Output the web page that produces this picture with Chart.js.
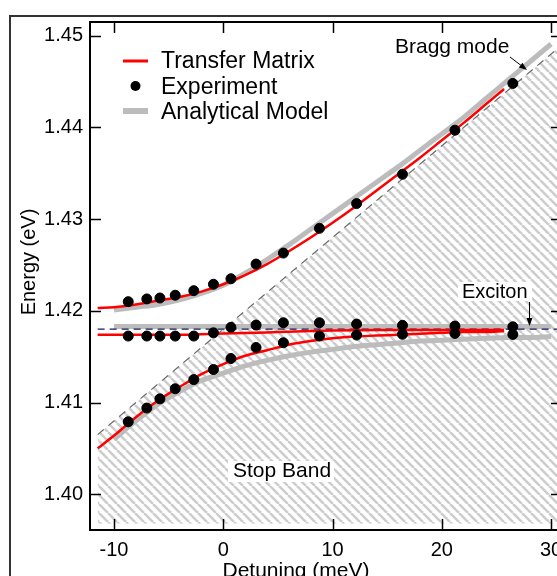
<!DOCTYPE html>
<html>
<head>
<meta charset="utf-8">
<script src="https://cdn.jsdelivr.net/npm/chart.js@4.4.0/dist/chart.umd.min.js"></script>
<style>
html, body { margin: 0; padding: 0; overflow: hidden; background: #fff; }
#wrap { position: relative; width: 557px; height: 576px; overflow: hidden; }
canvas { position: absolute; left: 0; top: 0; }
</style>
</head>
<body>
<div id="wrap"><canvas id="chart" width="600" height="576"></canvas></div>
<script>
// tick labels
var xTicks = [-10, 0, 10, 20, 30];
var yTicks = [1.40, 1.41, 1.42, 1.43, 1.44, 1.45];

// experiment (black dots)
var expDetuning = [-8.7, -7.0, -5.8, -4.4, -2.7, -0.9, 0.7, 3.0, 5.5, 8.8, 12.2, 16.4, 21.2, 26.5];
var expUpper  = [1.4210, 1.4213, 1.4214, 1.4217, 1.4222, 1.4229, 1.4235, 1.4251, 1.4263, 1.4290, 1.4317, 1.4349, 1.4397, 1.4448];
var expMiddle = [1.41725, 1.41725, 1.41725, 1.41725, 1.41725, 1.4176, 1.4182, 1.41845, 1.4187, 1.4187, 1.41856, 1.41842, 1.41834, 1.41826];
var expLower  = [1.4079, 1.4094, 1.4104, 1.4115, 1.4125, 1.4136, 1.4148, 1.4160, 1.41652, 1.41725, 1.41736, 1.41745, 1.41754, 1.41743];

// transfer matrix (red)
var tmDetuning = [-11.5, -10, -8, -6, -4, -2, 0, 2, 4, 6, 8, 10, 12, 14, 16, 18, 20, 22, 24, 25.7];
var tmUpper  = [1.4203, 1.4204, 1.4207, 1.4211, 1.4215, 1.4221, 1.4229, 1.4239, 1.4251, 1.4265, 1.4280, 1.4296, 1.4313, 1.4331, 1.4349, 1.4367, 1.4386, 1.4405, 1.4425, 1.4442];
var tmMiddle = [1.4174, 1.4174, 1.4174, 1.4174, 1.4174, 1.41745, 1.41752, 1.41758, 1.41765, 1.41773, 1.4178, 1.41785, 1.41788, 1.4179, 1.4179, 1.4179, 1.4179, 1.4179, 1.4179, 1.4179];
var tmLower  = [1.4050, 1.4064, 1.4084, 1.4102, 1.4117, 1.4131, 1.4142, 1.4151, 1.4157, 1.4163, 1.4167, 1.4170, 1.4172, 1.4173, 1.4174, 1.4175, 1.4176, 1.4177, 1.4177, 1.4178];

// analytical model (grey)
var amDetuning = [-10, -8, -6, -4, -2, 0, 2, 4, 6, 8, 10, 12, 14, 16, 18, 20, 22, 24, 26, 28, 30];
var amUpper  = [1.4201, 1.4204, 1.4207, 1.4212, 1.4219, 1.4228, 1.4241, 1.4256, 1.4272, 1.4289, 1.4306, 1.4323, 1.4340, 1.4357, 1.4375, 1.4393, 1.4411, 1.4431, 1.4451, 1.4471, 1.4491];
var amMiddle = [1.4183, 1.4183, 1.4183, 1.4183, 1.4183, 1.4183, 1.4183, 1.4183, 1.4183, 1.4183, 1.4183, 1.4183, 1.4183, 1.4183, 1.4183, 1.4183, 1.4183, 1.4183, 1.4183, 1.4183, 1.4183];
var amLower  = [1.4060, 1.4080, 1.4098, 1.4112, 1.4124, 1.4132, 1.4140, 1.4146, 1.4151, 1.4155, 1.4158, 1.4161, 1.4163, 1.4165, 1.4167, 1.4168, 1.4169, 1.4170, 1.4171, 1.4171, 1.4172];

// bare modes
var braggDetuning = [-11.5, 31];
var braggEnergy = [1.4065, 1.4490];
var excitonDetuning = [-11.5, 31];
var excitonEnergy = [1.4180, 1.4180];
var stopBandFloor = 1.3968;

var FONT = "'Liberation Sans', Arial, sans-serif";

function pts(xs, ys) {
  return xs.map(function (x, i) { return { x: x, y: ys[i] }; });
}

function hatch() {
  var c = document.createElement('canvas');
  c.width = 9; c.height = 9;
  var g = c.getContext('2d');
  g.strokeStyle = '#cdcdcd';
  g.lineWidth = 2.6;
  g.beginPath();
  for (var k = -1; k <= 1; k++) {
    g.moveTo(k * 9, 0);
    g.lineTo(k * 9 + 9, 9);
  }
  g.stroke();
  return g.createPattern(c, 'repeat');
}

function redLine(data) {
  return { data: data, borderColor: '#ff0000', borderWidth: 2.5, pointRadius: 0, fill: false,
           cubicInterpolationMode: 'monotone', order: 1 };
}
function greyLine(data) {
  return { data: data, borderColor: '#bcbcbc', borderWidth: 5, pointRadius: 0, fill: false,
           borderCapStyle: 'butt', cubicInterpolationMode: 'monotone', order: 3 };
}
function dots(data) {
  return { data: data, showLine: false, pointRadius: 5, pointBorderWidth: 1,
           pointBackgroundColor: '#000', pointBorderColor: '#000', order: 0 };
}

function arrow(ctx, x1, y1, x2, y2) {
  var a = Math.atan2(y2 - y1, x2 - x1);
  ctx.beginPath();
  ctx.moveTo(x1, y1);
  ctx.lineTo(x2 - 6 * Math.cos(a), y2 - 6 * Math.sin(a));
  ctx.stroke();
  ctx.beginPath();
  ctx.moveTo(x2, y2);
  ctx.lineTo(x2 - 8 * Math.cos(a) + 3 * Math.sin(a), y2 - 8 * Math.sin(a) - 3 * Math.cos(a));
  ctx.lineTo(x2 - 8 * Math.cos(a) - 3 * Math.sin(a), y2 - 8 * Math.sin(a) + 3 * Math.cos(a));
  ctx.closePath();
  ctx.fill();
}

var decorations = {
  id: 'decorations',
  beforeDraw: function (chart) {
    var ctx = chart.ctx;
    ctx.save();
    ctx.fillStyle = '#fff';
    ctx.fillRect(0, 0, chart.width, chart.height);
    ctx.fillStyle = '#333';
    ctx.fillRect(9, 15, 2, 600);
    ctx.fillRect(9, 15, 600, 2);
    ctx.restore();
  },
  afterDatasetsDraw: function (chart) {
    var ctx = chart.ctx, a = chart.chartArea;
    var xs = chart.scales.x, ys = chart.scales.y;
    ctx.save();

    // frame and inward ticks
    ctx.strokeStyle = '#000';
    ctx.lineWidth = 2;
    ctx.strokeRect(a.left, a.top, a.right - a.left, a.bottom - a.top);
    ctx.lineWidth = 1.5;
    ctx.beginPath();
    xTicks.forEach(function (v) {
      var px = Math.round(xs.getPixelForValue(v)) + 0.5;
      ctx.moveTo(px, a.bottom); ctx.lineTo(px, a.bottom - 11);
      ctx.moveTo(px, a.top); ctx.lineTo(px, a.top + 11);
    });
    yTicks.forEach(function (v) {
      var py = Math.round(ys.getPixelForValue(v)) + 0.5;
      ctx.moveTo(a.left, py); ctx.lineTo(a.left + 11, py);
      ctx.moveTo(a.right, py); ctx.lineTo(a.right - 11, py);
    });
    ctx.stroke();

    // labels in the plot
    ctx.fillStyle = '#000';
    ctx.textBaseline = 'alphabetic';
    ctx.font = '21px ' + FONT;
    ctx.fillStyle = '#fff';
    ctx.fillRect(228, 461, 106, 21);
    ctx.fillRect(458, 282, 74, 19);
    ctx.fillStyle = '#000';
    ctx.fillText('Stop Band', 233, 477);
    ctx.fillText('Bragg mode', 395, 53);
    ctx.font = '20px ' + FONT;
    ctx.fillText('Exciton', 462, 298);

    ctx.lineWidth = 1;
    ctx.strokeStyle = '#000';
    arrow(ctx, 510, 57, 527, 70);
    arrow(ctx, 529.5, 302, 529.5, 326);

    // legend
    ctx.lineCap = 'butt';
    ctx.strokeStyle = '#ff0000';
    ctx.lineWidth = 3;
    ctx.beginPath(); ctx.moveTo(123, 61); ctx.lineTo(148, 61); ctx.stroke();
    ctx.beginPath(); ctx.arc(135.5, 86, 5, 0, Math.PI * 2); ctx.fill();
    ctx.strokeStyle = '#bcbcbc';
    ctx.lineWidth = 6;
    ctx.beginPath(); ctx.moveTo(123, 111); ctx.lineTo(148, 111); ctx.stroke();
    ctx.font = '23px ' + FONT;
    ctx.fillText('Transfer Matrix', 161, 68);
    ctx.fillText('Experiment', 161, 94);
    ctx.fillText('Analytical Model', 161, 119);

    // axis titles
    ctx.font = '21px ' + FONT;
    ctx.textAlign = 'center';
    ctx.fillText('Detuning (meV)', 296, 577);
    ctx.translate(29, 262);
    ctx.rotate(-Math.PI / 2);
    ctx.textBaseline = 'middle';
    ctx.font = '20px ' + FONT;
    ctx.fillText('Energy (eV)', 0, 0);
    ctx.restore();
  }
};

new Chart(document.getElementById('chart').getContext('2d'), {
  type: 'line',
  data: {
    datasets: [
      dots(pts(expDetuning, expUpper)),
      dots(pts(expDetuning, expMiddle)),
      dots(pts(expDetuning, expLower)),
      redLine(pts(tmDetuning, tmUpper)),
      redLine(pts(tmDetuning, tmMiddle)),
      redLine(pts(tmDetuning, tmLower)),
      { data: pts(excitonDetuning, excitonEnergy), borderColor: '#1a1a5a', borderWidth: 1.2,
        borderDash: [7, 5], pointRadius: 0, fill: false, order: 2 },
      greyLine(pts(amDetuning, amUpper)),
      greyLine(pts(amDetuning, amMiddle)),
      greyLine(pts(amDetuning, amLower)),
      { data: pts(braggDetuning, braggEnergy), borderColor: '#666', borderWidth: 1.2,
        borderDash: [8, 6], pointRadius: 0, fill: { value: stopBandFloor },
        backgroundColor: hatch(), order: 4 }
    ]
  },
  options: {
    responsive: false,
    animation: false,
    devicePixelRatio: 1,
    layout: { padding: { left: 0, top: 22, right: 38, bottom: 0 } },
    plugins: { legend: { display: false }, tooltip: { enabled: false } },
    scales: {
      x: {
        type: 'linear', min: -12.2, max: 31,
        afterFit: function (s) { s.height = 46; },
        afterBuildTicks: function (s) { s.ticks = xTicks.map(function (v) { return { value: v }; }); },
        grid: { display: false, drawTicks: false },
        border: { display: false },
        ticks: { padding: 8, color: '#000', maxRotation: 0, autoSkip: false,
                 font: { family: FONT, size: 20 },
                 callback: function (v) { return String(v); } }
      },
      y: {
        type: 'linear', min: 1.3961, max: 1.4515,
        afterFit: function (s) { s.width = 90; },
        afterBuildTicks: function (s) { s.ticks = yTicks.map(function (v) { return { value: v }; }); },
        grid: { display: false, drawTicks: false },
        border: { display: false },
        ticks: { padding: 7, color: '#000', autoSkip: false,
                 font: { family: FONT, size: 20 },
                 callback: function (v) { return v.toFixed(2); } }
      }
    }
  },
  plugins: [decorations]
});
</script>
</body>
</html>
